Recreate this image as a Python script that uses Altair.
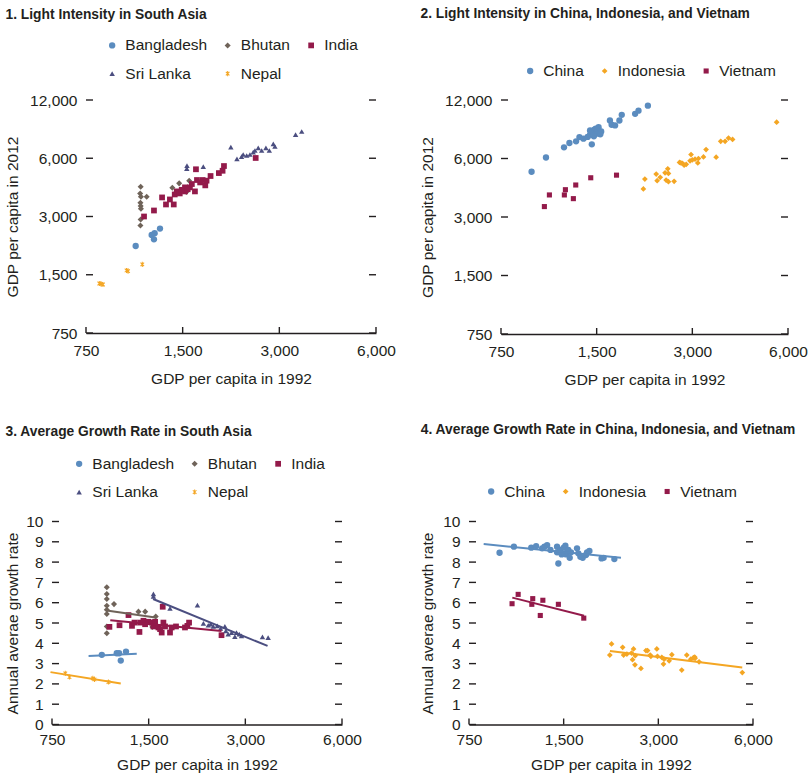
import altair as alt
import pandas as pd

# ---------------- data ----------------
X_TICKS = [750, 1500, 3000, 6000]
Y_TICKS_LEVEL = [750, 1500, 3000, 6000, 12000]
Y_TICKS_GROWTH = [0, 1, 2, 3, 4, 5, 6, 7, 8, 9, 10]

SA_COUNTRIES = ["Bangladesh", "Bhutan", "India", "Sri Lanka", "Nepal"]
EA_COUNTRIES = ["China", "Indonesia", "Vietnam"]

# Panel 1: GDP per capita 1992 vs 2012, South Asia
p1_bangladesh_x = [1071, 1201, 1227, 1221, 1275]
p1_bangladesh_y = [2112, 2409, 2458, 2287, 2599]
p1_bhutan_x = [1110, 1106, 1112, 1159, 1108, 1110, 1112, 1110, 1108, 1393, 1463, 1572, 1540]
p1_bhutan_y = [4277, 3949, 3795, 3795, 3536, 3398, 3292, 2897, 2697, 4225, 4450, 4594, 4012]
p1_india_x = [1137, 1221, 1294, 1331, 1369, 1407, 1417, 1438, 1469, 1525, 1525, 1580, 1602, 1638,
              1650, 1662, 1731, 1764, 1780, 1832, 1945, 1997, 2017, 2532, 1555, 1700, 1490]
p1_india_y = [3000, 3222, 3764, 3462, 3675, 3462, 3900, 4044, 3948, 4243, 4044, 4243, 4415, 4044,
              5262, 4631, 4631, 4345, 4595, 4857, 5030, 5170, 5470, 6020, 4150, 4500, 4120]
p1_srilanka_x = [1547, 1545, 1739, 2119, 2214, 2288, 2315, 2374, 2430, 2488, 2519, 2579, 2643,
                 2725, 2792, 2873, 2907, 3371, 3522]
p1_srilanka_y = [5497, 5300, 5433, 6844, 5950, 6123, 6273, 6200, 6273, 6446, 6580, 6789, 6580,
                 6789, 6580, 7120, 6900, 7957, 8250]
p1_nepal_x = [825, 847, 835, 1003, 1014, 1123]
p1_nepal_y = [1352, 1336, 1345, 1579, 1566, 1697]

# Panel 2: GDP per capita 1992 vs 2012, China / Indonesia / Vietnam
p2_china_x = [936, 1039, 1184, 1231, 1292, 1324, 1363, 1430, 1430, 1448, 1460, 1475, 1490, 1505,
              1515, 1470, 1521, 1550, 1651, 1672, 1714, 1769, 1799, 1982, 2031, 2174, 1405, 1540]
p2_china_y = [5127, 6071, 6852, 7208, 7354, 7734, 7590, 7955, 8370, 7096, 8200, 8450, 8550, 8300,
              8050, 7800, 8701, 8268, 9410, 8952, 8876, 9410, 10063, 10181, 10579, 11223, 7750, 8000]
p2_indonesia_x = [5526, 3685, 3804, 3900, 4016, 3565, 3314, 3252, 3136, 3121, 3059, 2972, 2951,
                  2734, 2794, 2827, 2511, 2523, 2462, 2309, 2377, 2325, 2481, 2523, 2629, 2127,
                  2104, 2760, 2870, 3000]
p2_indonesia_y = [9228, 7354, 7354, 7640, 7524, 6093, 6671, 6115, 6000, 5696, 5951, 6290, 5834,
                  5725, 5658, 5546, 5308, 5027, 5065, 4987, 4798, 4612, 4650, 4557, 4577, 4703,
                  4181, 5700, 5600, 5900]
p2_vietnam_x = [1027, 1065, 1187, 1196, 1267, 1289, 1437, 1732]
p2_vietnam_y = [3394, 3896, 3896, 4146, 3729, 4383, 4775, 4926]

# Panel 3: average growth rate, South Asia
p3_bangladesh_x = [1072, 1193, 1213, 1228, 1275]
p3_bangladesh_y = [3.43, 3.51, 3.51, 3.15, 3.59]
p3_bhutan_x = [1111, 1111, 1111, 1170, 1111, 1111, 1111, 1394, 1463, 1578, 1111, 1111, 1540]
p3_bhutan_y = [6.76, 6.43, 6.18, 5.93, 5.85, 5.65, 5.44, 5.56, 5.56, 5.32, 4.83, 4.50, 4.80]
p3_india_x = [1132, 1217, 1298, 1331, 1355, 1404, 1411, 1445, 1462, 1497, 1533, 1552, 1571, 1609,
              1628, 1647, 1667, 1687, 1748, 1769, 1825, 1946, 1980, 2004, 1659, 2529]
p3_india_y = [4.81, 4.89, 5.39, 4.86, 5.02, 4.56, 5.02, 5.11, 4.94, 5.06, 5.02, 4.83, 5.06, 4.78,
              4.70, 4.53, 5.02, 4.83, 4.53, 4.78, 4.83, 4.78, 4.86, 5.02, 5.80, 4.40]
p3_srilanka_x = [1552, 1552, 1748, 2128, 2221, 2300, 2339, 2383, 2453, 2512, 2591, 2609, 2653,
                 2718, 2783, 2816, 2871, 2919, 3392, 3533]
p3_srilanka_y = [6.43, 6.31, 5.72, 5.88, 4.98, 4.89, 4.94, 4.83, 4.86, 4.73, 4.83, 4.61, 4.45,
                 4.53, 4.33, 4.53, 4.45, 4.37, 4.32, 4.28]
p3_nepal_x = [825, 850, 1005, 1017, 1124]
p3_nepal_y = [2.52, 2.34, 2.27, 2.22, 2.09]

# Panel 4: average growth rate, China / Indonesia / Vietnam
p4_china_x = [938, 1042, 1183, 1226, 1281, 1303, 1329, 1362, 1429, 1429, 1443, 1464, 1478, 1501,
              1519, 1527, 1552, 1568, 1583, 1654, 1670, 1695, 1724, 1766, 1780, 1811, 1980, 2010,
              2174, 1454, 1508, 1545]
p4_china_y = [8.46, 8.76, 8.71, 8.79, 8.68, 8.76, 8.84, 8.60, 8.76, 8.48, 7.93, 8.60, 8.38, 8.71,
              8.81, 8.38, 8.60, 8.21, 8.48, 8.68, 8.43, 8.26, 8.21, 8.35, 8.48, 8.55, 8.18, 8.21,
              8.15, 8.51, 8.43, 8.51]
p4_indonesia_x = [2130, 2103, 2310, 2327, 2383, 2466, 2502, 2484, 2533, 2528, 2641, 2740, 2773,
                  2827, 2841, 2967, 2981, 3077, 3130, 3115, 3247, 3312, 3561, 3694, 3804, 3878,
                  3916, 3926, 4042, 5548]
p4_indonesia_y = [3.97, 3.42, 3.80, 3.42, 3.47, 3.52, 3.72, 3.19, 3.39, 2.94, 2.76, 3.64, 3.64,
                  3.42, 3.36, 3.72, 3.36, 3.31, 3.22, 2.98, 3.14, 3.44, 2.68, 3.42, 3.22, 3.29,
                  3.32, 3.26, 3.09, 2.56]
p4_vietnam_x = [1028, 1075, 1188, 1196, 1264, 1288, 1443, 1738]
p4_vietnam_y = [5.95, 6.41, 5.92, 6.20, 5.37, 6.12, 5.92, 5.24]

# fitted lines (end points)
p3_fit_country = ["Bangladesh", "Bangladesh", "Bhutan", "Bhutan", "India", "India",
                  "Sri Lanka", "Sri Lanka", "Nepal", "Nepal"]
p3_fit_x = [975, 1377, 1110, 1574, 1139, 2530, 1548, 3518, 742, 1228]
p3_fit_y = [3.38, 3.49, 5.62, 5.27, 5.14, 4.60, 6.18, 3.87, 2.58, 2.02]
p4_fit_country = ["China", "China", "Vietnam", "Vietnam", "Indonesia", "Indonesia"]
p4_fit_x = [835, 2282, 1030, 1742, 2105, 5547]
p4_fit_y = [8.89, 8.21, 6.25, 5.36, 3.62, 2.81]

# ---------------- styling ----------------
FONT = "Liberation Sans"
FS = 15.5
TXT = "#231f20"
TICK = "#231f20"

BLUE = "#5b8cbf"
BROWN = "#6f6359"
CRIMSON = "#931a4a"
SLATE = "#4b4e80"
ORANGE = "#f4a623"

ASTERISK = ("M-0.2,-1L0.2,-1L0.2,1L-0.2,1Z"
            "M-0.849,-0.566L-0.566,-0.849L0.849,0.566L0.566,0.849Z"
            "M-0.566,0.849L-0.849,0.566L0.566,-0.849L0.849,-0.566Z")

SA_COLORS = [BLUE, BROWN, CRIMSON, SLATE, ORANGE]
SA_SHAPES = ["circle", "diamond", "square", "triangle-up", ASTERISK]
SA_SIZES = [40, 26, 60, 34, 110]
EA_COLORS = [BLUE, ORANGE, CRIMSON]
EA_SHAPES = ["circle", "diamond", "square"]
EA_SIZES = [40, 26, 60]


def frame(pairs):
    rows = []
    for name, xs, ys in pairs:
        for a, b in zip(xs, ys):
            rows.append({"country": name, "x": a, "y": b})
    return pd.DataFrame(rows)


def spacer(w):
    # empty view that only takes horizontal room between panels
    return alt.Chart(pd.DataFrame({"s": [0]})).mark_rule(opacity=0).encode(
        x=alt.value(0), x2=alt.value(0), y=alt.value(0)).properties(width=w, height=1)


def panel(df, domain, colors, shapes, sizes, ylog, ydomain, yticks, yfmt, ytitle, title,
          W, H, lx, ly, toff, ytp, xlp, xtp, fit=None):
    xenc = alt.X("x:Q", scale=alt.Scale(type="log", domain=[750, 6000], nice=False),
                 axis=alt.Axis(values=X_TICKS, format=",", title="GDP per capita in 1992",
                               grid=False, ticks=False, domain=True, domainColor=TICK,
                               domainWidth=1.5, labelPadding=xlp, titlePadding=xtp,
                               labelFlush=False, labelOverlap=False))
    if ylog:
        ysc = alt.Scale(type="log", domain=ydomain, nice=False)
    else:
        ysc = alt.Scale(type="linear", domain=ydomain, nice=False, zero=True)
    yenc = alt.Y("y:Q", scale=ysc,
                 axis=alt.Axis(values=yticks, format=yfmt, title=ytitle, grid=False,
                               ticks=False, domain=False, labelPadding=9, titlePadding=ytp,
                               labelOverlap=False))
    ynone = alt.Y("y:Q", scale=ysc, axis=None)
    leg = alt.Legend(title=None, orient="none", legendX=lx, legendY=ly,
                     direction="horizontal", columns=3, gridAlign="none",
                     labelFont=FONT, labelFontSize=FS, labelColor=TXT,
                     symbolSize=85, symbolStrokeWidth=0, labelOffset=5.4,
                     columnPadding=12.5, rowPadding=11.25, padding=0)
    cenc = alt.Color("country:N", scale=alt.Scale(domain=domain, range=colors), legend=leg)
    senc = alt.Shape("country:N", scale=alt.Scale(domain=domain, range=shapes), legend=leg)
    zenc = alt.Size("country:N", scale=alt.Scale(domain=domain, range=sizes), legend=None)

    pts = alt.Chart(df).mark_point(filled=True, opacity=1).encode(
        x=xenc, y=yenc, color=cenc, shape=senc, size=zenc)
    layers = [pts]
    if fit is not None:
        layers.append(
            alt.Chart(fit).mark_line(strokeWidth=2, clip=False).encode(
                x=xenc, y=ynone,
                color=alt.Color("country:N", scale=alt.Scale(domain=domain, range=colors),
                                legend=None),
                detail="country:N"))
    ydf = pd.DataFrame({"y": yticks})
    xdf = pd.DataFrame({"x": X_TICKS})
    layers.append(alt.Chart(ydf).mark_rule(color=TICK, strokeWidth=1.4).encode(
        y=ynone, x=alt.value(0), x2=alt.value(7)))
    layers.append(alt.Chart(ydf).mark_rule(color=TICK, strokeWidth=1.4).encode(
        y=ynone, x=alt.value(W - 7), x2=alt.value(W)))
    layers.append(alt.Chart(xdf).mark_rule(color=TICK, strokeWidth=1.4).encode(
        x=xenc, y=alt.value(H), y2=alt.value(H - 6)))
    return alt.layer(*layers).resolve_axis(y="independent").properties(
        width=W, height=H,
        title=alt.TitleParams(text=title, anchor="start", frame="bounds", font=FONT,
                              fontSize=13.8, fontWeight="bold", color=TXT, offset=toff))


df1 = frame([("Bangladesh", p1_bangladesh_x, p1_bangladesh_y),
             ("Bhutan", p1_bhutan_x, p1_bhutan_y),
             ("India", p1_india_x, p1_india_y),
             ("Sri Lanka", p1_srilanka_x, p1_srilanka_y),
             ("Nepal", p1_nepal_x, p1_nepal_y)])
df2 = frame([("China", p2_china_x, p2_china_y),
             ("Indonesia", p2_indonesia_x, p2_indonesia_y),
             ("Vietnam", p2_vietnam_x, p2_vietnam_y)])
df3 = frame([("Bangladesh", p3_bangladesh_x, p3_bangladesh_y),
             ("Bhutan", p3_bhutan_x, p3_bhutan_y),
             ("India", p3_india_x, p3_india_y),
             ("Sri Lanka", p3_srilanka_x, p3_srilanka_y),
             ("Nepal", p3_nepal_x, p3_nepal_y)])
df4 = frame([("China", p4_china_x, p4_china_y),
             ("Indonesia", p4_indonesia_x, p4_indonesia_y),
             ("Vietnam", p4_vietnam_x, p4_vietnam_y)])
fit3 = pd.DataFrame({"country": p3_fit_country, "x": p3_fit_x, "y": p3_fit_y})
fit4 = pd.DataFrame({"country": p4_fit_country, "x": p4_fit_x, "y": p4_fit_y})

p1 = panel(df1, SA_COUNTRIES, SA_COLORS, SA_SHAPES, SA_SIZES, True, [750, 12000],
           Y_TICKS_LEVEL, ",", "GDP per capita in 2012", "1. Light Intensity in South Asia",
           290, 233, 18.4, -62.35, 15.7, 9.1, 10, 12.5)
p2 = panel(df2, EA_COUNTRIES, EA_COLORS, EA_SHAPES, EA_SIZES, True, [750, 12000],
           Y_TICKS_LEVEL, ",", "GDP per capita in 2012",
           "2. Light Intensity in China, Indonesia, and Vietnam",
           287, 234, 21.4, -36.75, 42, 9.1, 10, 12.5)
p3 = panel(df3, SA_COUNTRIES, SA_COLORS, SA_SHAPES, SA_SIZES, False, [0, 10],
           Y_TICKS_GROWTH, "d", "Annual averae growth rate",
           "3. Average Growth Rate in South Asia", 290, 203, 19.4, -65.45, 16.95, 5.3, 8, 9,
           fit3)
p4 = panel(df4, EA_COUNTRIES, EA_COLORS, EA_SHAPES, EA_SIZES, False, [0, 10],
           Y_TICKS_GROWTH, "d", "Annual averae growth rate",
           "4. Average Growth Rate in China, Indonesia, and Vietnam", 284, 203, 14.4, -37.75,
           46.65, 7, 8, 9, fit4)

RES = dict(color="independent", shape="independent", size="independent")
row1 = alt.hconcat(spacer(1), p1, spacer(23.2), p2, spacing=0).resolve_scale(
    **RES).resolve_legend(color="independent", shape="independent")
row2 = alt.hconcat(spacer(1), p3, spacer(57.9), p4, spacing=0).resolve_scale(
    **RES).resolve_legend(color="independent", shape="independent")

chart = alt.vconcat(row1, row2, spacing=34.5).resolve_scale(**RES).resolve_legend(
    color="independent", shape="independent").properties(
    padding={"left": 4, "top": 7, "right": 0, "bottom": 5}
).configure(background="white").configure_view(stroke=None).configure_axis(
    labelFont=FONT, labelFontSize=FS, labelColor=TXT, titleFont=FONT, titleFontSize=FS,
    titleColor=TXT, titleFontWeight="normal"
)

chart.save("out.html", embed_options={"renderer": "svg", "actions": False})
